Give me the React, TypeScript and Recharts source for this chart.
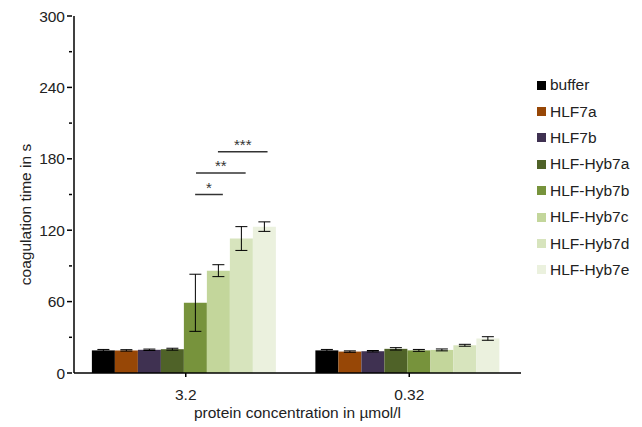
import React from 'react';
import { BarChart, Bar, XAxis, YAxis, ErrorBar, ReferenceLine, Label } from 'recharts';

const categories = ['3.2', '0.32'];
const seriesNames = ['buffer', 'HLF7a', 'HLF7b', 'HLF-Hyb7a', 'HLF-Hyb7b', 'HLF-Hyb7c', 'HLF-Hyb7d', 'HLF-Hyb7e'];
const colors = ['#000000', '#974706', '#3f3151', '#4f6228', '#77933c', '#c3d69b', '#d7e4bd', '#ebf1de'];

// values per series: [3.2, 0.32]
const values = [
  [19, 19],
  [19, 18],
  [19.5, 18.3],
  [20, 20.3],
  [59, 19],
  [86, 19.4],
  [113, 23.3],
  [123, 29],
];
const errors = [
  [0.8, 0.8],
  [0.6, 0.6],
  [0.6, 0.6],
  [0.8, 1],
  [24, 0.8],
  [5, 0.8],
  [10, 0.8],
  [4, 1.5],
];

const yTicks = [0, 30, 60, 90, 120, 150, 180, 210, 240, 270, 300];

// significance brackets, x as fraction of the whole x range (0..1)
const sigStart = [0.271, 0.273, 0.322];
const sigEnd = [0.333, 0.384, 0.433];
const sigY = [150, 168, 186];
const sigText = ['*', '**', '***'];

const data = categories.map((c, ci) => {
  const row: any = { name: c };
  seriesNames.forEach((s, si) => {
    row[s] = values[si][ci];
    row[s + '_err'] = errors[si][ci];
  });
  return row;
});

const font = 'Liberation Sans, Arial, sans-serif';
const fs = 15.5;

function YTick(props: any) {
  const { x, y, payload } = props;
  const major = payload.value % 60 === 0;
  return (
    <g>
      <line x1={x + 6 - (major ? 5 : 3)} x2={x + 6} y1={y} y2={y} stroke="#000" strokeWidth={1.5} />
      {major && (
        <text x={x - 1} y={y} dy={5.5} textAnchor="end" fontSize={fs} fill="#222" fontFamily={font}>
          {payload.value}
        </text>
      )}
    </g>
  );
}

function YLabel(props: any) {
  const { viewBox } = props;
  const cx = viewBox.x + 17;
  const cy = viewBox.y + viewBox.height / 2 + 20;
  return (
    <text x={cx} y={cy} transform={`rotate(-90 ${cx} ${cy})`} textAnchor="middle" fontSize={fs} fill="#222" fontFamily={font}>
      coagulation time in s
    </text>
  );
}

function LegendBox() {
  return (
    <div style={{ position: 'absolute', left: 537, top: 72, fontFamily: font, fontSize: fs, color: '#222' }}>
      {seriesNames.map((s, i) => (
        <div key={s} style={{ height: 26.4, display: 'flex', alignItems: 'center' }}>
          <div style={{ width: 9, height: 9, background: colors[i], marginRight: 4 }} />
          <span>{s}</span>
        </div>
      ))}
    </div>
  );
}

export default function App() {
  return (
    <div style={{ position: 'absolute', left: 0, top: 0, width: 642, height: 427, background: '#fff' }}>
      <BarChart
        width={642}
        height={427}
        data={data}
        margin={{ top: 16, right: 121, left: 14, bottom: 23 }}
        barCategoryGap="8%"
        barGap={0}
      >
        <XAxis
          dataKey="name"
          height={31}
          stroke="#000"
          strokeWidth={1.5}
          tickSize={4}
          tickMargin={12}
          tick={{ fill: '#222', fontSize: fs, fontFamily: font }}
          interval={0}
        >
          <Label value="protein concentration in µmol/l" position="insideBottom" offset={-14} fill="#222" fontSize={fs} fontFamily={font} />
        </XAxis>
        <XAxis xAxisId="sig" type="number" domain={[0, 1]} allowDataOverflow hide />
        <YAxis
          width={60}
          domain={[0, 300]}
          ticks={yTicks}
          interval={0}
          stroke="#000"
          strokeWidth={1.5}
          tickLine={false}
          tick={<YTick />}
        >
          <Label content={<YLabel />} />
        </YAxis>
        {seriesNames.map((s, i) => (
          <Bar key={s} dataKey={s} fill={colors[i]} isAnimationActive={false}>
            <ErrorBar dataKey={s + '_err'} width={6} stroke="#000" strokeWidth={1} />
          </Bar>
        ))}
        {sigText.map((t, i) => (
          <ReferenceLine
            key={t}
            xAxisId="sig"
            segment={[{ x: sigStart[i], y: sigY[i] }, { x: sigEnd[i], y: sigY[i] }]}
            stroke="#333"
            strokeWidth={1.5}
            label={{ value: t, position: 'top', fontSize: 15, fill: '#333', fontFamily: font, offset: 2 }}
          />
        ))}
      </BarChart>
      <LegendBox />
    </div>
  );
}
